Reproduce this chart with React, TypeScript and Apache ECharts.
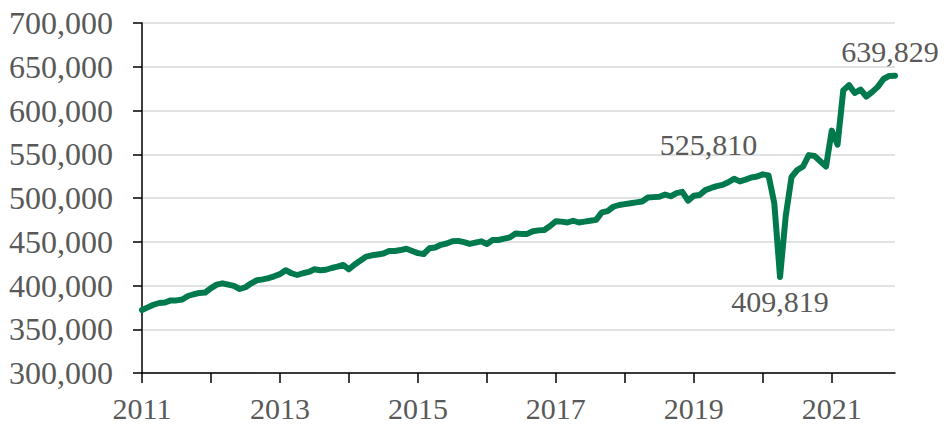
import React, { useEffect, useRef } from "react";
import * as echarts from "echarts";

const years = [2011, 2012, 2013, 2014, 2015, 2016, 2017, 2018, 2019, 2020, 2021];

const values2011 = [372000, 375000, 378000, 380000, 380500, 383000, 383000, 384000, 388000, 390000, 391500, 392000];
const values2012 = [397000, 401000, 402500, 401000, 399500, 396000, 398000, 402500, 406000, 407000, 408500, 410500];
const values2013 = [413000, 417500, 414000, 412000, 414000, 415500, 418500, 417500, 418000, 420000, 421500, 423500];
const values2014 = [418500, 424000, 428500, 433000, 434500, 435500, 436500, 439500, 439500, 440500, 442000, 439500];
const values2015 = [437000, 436000, 442500, 443500, 446500, 448000, 450500, 451000, 449500, 447500, 449000, 450500];
const values2016 = [447500, 452000, 452000, 453500, 455000, 459500, 459000, 459000, 462000, 463000, 463500, 468000];
const values2017 = [473500, 473000, 472000, 474000, 472000, 473000, 474000, 475000, 483500, 485000, 490000, 492000];
const values2018 = [493000, 494000, 495000, 496000, 500500, 501000, 501500, 504000, 502000, 505500, 507000, 497000];
const values2019 = [502500, 503500, 509000, 511500, 513500, 515000, 518000, 522000, 519000, 521000, 523500, 524500];
const values2020 = [527000, 525810, 494000, 409819, 480000, 524000, 532000, 536000, 549000, 548000, 542000, 536000];
const values2021 = [577000, 561000, 623000, 629000, 620000, 624000, 616000, 621000, 627000, 636000, 639500, 639829];

const yTicks = [300000, 350000, 400000, 450000, 500000, 550000, 600000, 650000, 700000];

// annotated points: [category index, label placement]
const annotations: { index: number; position: string; offset: [number, number] }[] = [
  { index: 109, position: "top", offset: [-60, -16] },
  { index: 111, position: "bottom", offset: [0, 10] },
  { index: 131, position: "top", offset: [-5, -9] },
];

const allValues = [
  ...values2011, ...values2012, ...values2013, ...values2014, ...values2015, ...values2016,
  ...values2017, ...values2018, ...values2019, ...values2020, ...values2021,
];

const categories: string[] = [];
years.forEach((y) => {
  for (let m = 1; m <= 12; m++) categories.push(`${y}-${m < 10 ? "0" + m : m}`);
});

const FONT = '"Liberation Serif", "Times New Roman", serif';
const fmt = (v: number) => v.toLocaleString("en-US");

export default function App() {
  const ref = useRef<HTMLDivElement>(null);
  useEffect(() => {
    if (!ref.current) return;
    const chart = echarts.init(ref.current, null, { renderer: "svg" });
    const data = allValues.map((v, i) => {
      const a = annotations.find((x) => x.index === i);
      if (!a) return v;
      return {
        value: v,
        label: {
          show: true,
          position: a.position,
          offset: a.offset,
          distance: 0,
          formatter: (p: any) => fmt(p.value),
          fontFamily: FONT,
          fontSize: 30,
          color: "#595959",
        },
      };
    });
    chart.setOption({
      animation: false,
      grid: { left: 142, right: 51, top: 23, bottom: 52 },
      xAxis: {
        type: "category",
        data: categories,
        boundaryGap: false,
        axisLine: { lineStyle: { color: "#000", width: 1.5 } },
        axisTick: { show: true, interval: 11, length: 10, lineStyle: { color: "#000", width: 1.5 } },
        axisLabel: {
          interval: 23,
          margin: 20,
          fontFamily: FONT,
          fontSize: 30,
          color: "#595959",
          formatter: (v: string) => v.slice(0, 4),
        },
        splitLine: { show: false },
      },
      yAxis: {
        type: "value",
        min: yTicks[0],
        max: yTicks[yTicks.length - 1],
        interval: yTicks[1] - yTicks[0],
        axisLine: { show: true, lineStyle: { color: "#000", width: 1.5 } },
        axisTick: { show: true, length: 9, lineStyle: { color: "#000", width: 1.5 } },
        axisLabel: {
          margin: 29,
          fontFamily: FONT,
          fontSize: 32,
          color: "#595959",
          formatter: (v: number) => fmt(v),
        },
        splitLine: { show: true, lineStyle: { color: "#d9d9d9", width: 1.5 } },
      },
      series: [
        {
          type: "line",
          data,
          symbol: "circle",
          symbolSize: 0.1,
          showSymbol: true,
          showAllSymbol: true,
          lineStyle: { color: "#007a4d", width: 6, join: "round", cap: "round" },
          itemStyle: { color: "rgba(0,0,0,0)" },
        },
      ],
    });
    return () => chart.dispose();
  }, []);
  return <div ref={ref} style={{ width: 946, height: 425, position: "absolute", left: 0, top: 0 }} />;
}
